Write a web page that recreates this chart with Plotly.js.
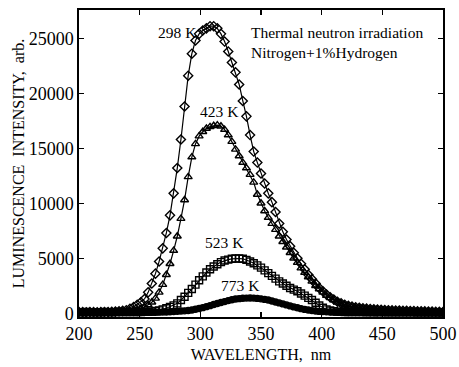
<!DOCTYPE html>
<html>
<head>
<meta charset="utf-8">
<script src="https://cdn.plot.ly/plotly-3.0.1.min.js"></script>
<style>html,body{margin:0;padding:0;background:#fff;}#chart{width:459px;height:367px;}</style>
</head>
<body>
<div id="chart"></div>
<script>
// Wavelength grid (nm)
const wavelength = [200,203,206,209,212,215,218,221,224,227,230,233,236,239,242,245,248,251,254,257,
260,263,266,269,272,275,278,281,284,287,290,293,296,299,302,305,308,311,314,317,
320,323,326,329,332,335,338,341,344,347,350,353,356,359,362,365,368,371,374,377,
380,383,386,389,392,395,398,401,404,407,410,413,416,419,422,425,428,431,434,437,
440,443,446,449,452,455,458,461,464,467,470,473,476,479,482,485,488,491,494,497,500];

// 298 K
const int298 = [120,100,90,110,100,90,100,120,110,130,150,180,220,280,400,560,780,1000,1300,1900,
2700,3600,4700,5900,7300,8900,10900,13200,15800,18800,21600,23600,24800,25400,25700,25900,26100,26100,25900,25400,
24700,23800,22800,21900,20800,19300,17900,16200,14700,13700,12700,11800,10900,10100,9200,8150,7400,6700,6100,5500,
5000,4500,4000,3500,3100,2700,2300,2000,1700,1450,1250,1050,900,780,680,600,540,490,450,420,
390,360,340,320,300,280,260,250,240,230,220,210,200,190,180,170,160,150,140,130,120];

// 423 K
const int423 = [90,110,100,80,100,110,90,100,120,110,120,140,160,180,220,270,330,420,550,750,
1000,1350,1900,2600,3500,4500,5700,7000,8600,10300,12400,14200,15400,16100,16500,16800,16950,17050,17100,17000,
16700,16200,15600,14900,14300,13700,13200,12600,11900,10800,10000,9300,8700,8150,7600,7000,6500,6000,5500,5000,
4600,4100,3700,3300,2900,2500,2200,1900,1600,1400,1200,1000,850,750,650,580,500,460,420,390,
360,340,320,300,280,260,240,230,220,210,200,190,180,170,160,150,140,130,120,110,100];

// 523 K
const int523 = [100,90,110,100,80,100,90,110,100,90,100,110,100,110,100,120,110,120,130,140,
150,200,260,350,450,580,720,900,1200,1500,1850,2200,2600,3000,3350,3700,4000,4250,4450,4650,
4800,4880,4950,4980,4980,4950,4850,4700,4550,4350,4150,3900,3650,3400,3150,2900,2700,2500,2300,2150,
2000,1800,1600,1400,1200,950,700,500,350,250,180,150,130,120,110,110,100,100,100,90,
100,90,90,100,90,80,90,80,90,80,80,90,80,70,80,70,80,70,80,70,70];

// 773 K
const int773 = [80,100,90,80,100,90,80,90,100,80,90,100,90,80,100,90,100,90,100,90,
100,90,100,110,120,140,160,180,200,220,250,300,360,430,510,600,690,790,890,980,
1060,1150,1230,1290,1330,1360,1380,1390,1380,1350,1310,1260,1200,1120,1030,940,850,760,670,580,
500,420,350,290,240,200,170,150,130,120,110,100,90,100,90,80,90,80,90,80,
70,80,70,80,70,80,70,60,70,60,70,60,70,60,60,70,60,60,70,60,60];

const seriesNames = ['298 K', '423 K', '523 K', '773 K'];
const seriesData = [int298, int423, int523, int773];
const seriesSymbols = ['diamond-open', 'triangle-up-open', 'square-open', 'circle'];
const seriesSizes = [7, 7, 7, 6];

// Label positions for the curve annotations (x nm, y intensity)
const labelX = [281, 316, 320, 333];
const labelY = [25500, 18300, 6450, 2550];

const serif = 'Liberation Serif, Times New Roman, serif';

const traces = seriesData.map((d, i) => ({
  x: wavelength, y: d, type: 'scatter', mode: 'lines+markers', name: seriesNames[i],
  line: {color: '#000', width: 1.2},
  marker: {symbol: seriesSymbols[i], size: seriesSizes[i], color: '#000', line: {color: '#000', width: 1.4}},
  cliponaxis: true
}));

const annotations = seriesNames.map((n, i) => ({
  x: labelX[i], y: labelY[i], xref: 'x', yref: 'y', text: n, showarrow: false,
  font: {family: serif, size: 15.5, color: '#000'}
}));
annotations.push({
  x: 0.468, y: 0.962, xref: 'paper', yref: 'paper', xanchor: 'left', yanchor: 'top', align: 'left',
  text: 'Thermal neutron irradiation<br>Nitrogen+1%Hydrogen', showarrow: false,
  font: {family: serif, size: 15.5, color: '#000'}
});

const layout = {
  width: 459, height: 367,
  margin: {l: 79, r: 16, t: 10, b: 50},
  paper_bgcolor: '#fff', plot_bgcolor: '#fff',
  showlegend: false,
  separators: '.',
  font: {family: serif, color: '#000', size: 15},
  xaxis: {
    range: [200, 500], dtick: 50, tick0: 200,
    showgrid: false, zeroline: false,
    showline: true, linecolor: '#000', linewidth: 1.6, mirror: 'ticks',
    ticks: 'inside', ticklen: 5, tickwidth: 1.5, tickcolor: '#000',
    tickfont: {family: serif, size: 18},
    title: {text: 'WAVELENGTH,  nm', font: {family: serif, size: 16}, standoff: 5}
  },
  yaxis: {
    range: [-340, 27570], dtick: 5000, tick0: 0, tickformat: 'd',
    showgrid: false, zeroline: false,
    showline: true, linecolor: '#000', linewidth: 1.6, mirror: 'ticks',
    ticks: 'inside', ticklen: 5, tickwidth: 1.5, tickcolor: '#000',
    tickfont: {family: serif, size: 18},
    title: {text: 'LUMINESCENCE  INTENSITY,  arb.', font: {family: serif, size: 16}, standoff: 0}
  },
  annotations: annotations
};

Plotly.newPlot('chart', traces, layout, {displayModeBar: false, staticPlot: true});
</script>
</body>
</html>
